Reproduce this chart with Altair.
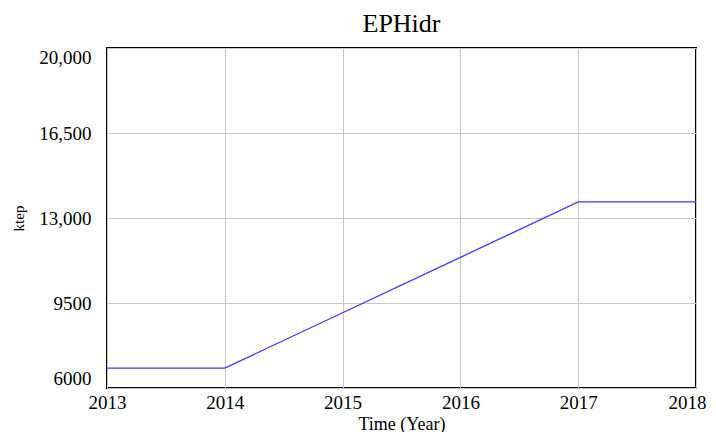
import altair as alt
import pandas as pd

years = [2013, 2014, 2015, 2016, 2017, 2018]
values = [6820, 6820, 9100, 11380, 13660, 13660]
x_ticks = [2013, 2014, 2015, 2016, 2017, 2018]
y_ticks = [6000, 9500, 13000, 16500, 20000]

df = pd.DataFrame({"year": years, "value": values})

FONT = "Liberation Serif"

chart = (
    alt.Chart(df)
    .mark_line(color="#3a3aff", strokeWidth=1.3, clip=True)
    .encode(
        x=alt.X(
            "year:Q",
            scale=alt.Scale(domain=[2013, 2018], nice=False, zero=False),
            axis=alt.Axis(
                values=x_ticks,
                format="d",
                title="Time (Year)",
                titleFont=FONT,
                titleFontSize=18,
                titleFontWeight="normal",
                titleColor="black",
                titlePadding=3,
                labelFont=FONT,
                labelFontSize=19,
                labelColor="black",
                labelPadding=5,
                labelFlush=False,
                labelOffset={"condition": {"test": "datum.value == 2018", "value": -9}, "value": 0},
                ticks=False,
                domain=False,
                gridColor="#c8c8c8",
                gridWidth=1,
            ),
        ),
        y=alt.Y(
            "value:Q",
            scale=alt.Scale(domain=[6000, 20000], nice=False, zero=False),
            axis=alt.Axis(
                values=y_ticks,
                labelExpr="datum.value >= 10000 ? format(datum.value, ',') : format(datum.value, 'd')",
                title="ktep",
                titleFont=FONT,
                titleFontSize=15,
                titleFontWeight="normal",
                titleColor="black",
                titleAngle=-90,
                titleX=-89,
                titleY=170,
                titleAlign="center",
                titleBaseline="middle",
                labelFont=FONT,
                labelFontSize=19,
                labelColor="black",
                labelPadding=16,
                labelFlush=True,
                ticks=False,
                domain=False,
                gridColor="#c8c8c8",
                gridWidth=1,
            ),
        ),
    )
    .properties(
        width=589,
        height=340,
        title=alt.TitleParams(
            "EPHidr",
            font=FONT,
            fontSize=26,
            fontWeight="normal",
            color="black",
            offset=11,
        ),
        autosize=alt.AutoSizeParams(type="none"),
        padding={"left": 99, "top": 40, "right": 12, "bottom": 44},
    )
    .configure_view(stroke="black", strokeWidth=2)
)

chart.save("out.html", embed_options={"renderer": "svg", "actions": False})
